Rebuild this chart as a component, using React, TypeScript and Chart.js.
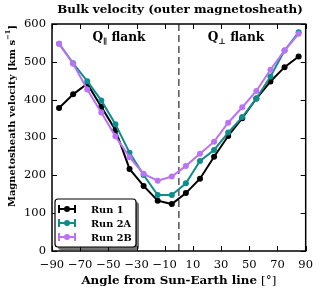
import React, { useEffect, useRef } from "react";
import { Chart, registerables } from "chart.js";

Chart.register(...registerables);

const ANGLES = [-85, -75, -65, -55, -45, -35, -25, -15, -5, 5, 15, 25, 35, 45, 55, 65, 75, 85];
const RUN_1 = [378, 414, 442, 381, 320, 217, 172, 133, 124, 153, 191, 249, 304, 351, 403, 448, 486, 514];
const RUN_2A = [548, 496, 449, 398, 335, 260, 201, 148, 148, 179, 238, 267, 313, 354, 403, 461, 530, 578];
const RUN_2B = [548, 495, 427, 366, 303, 248, 204, 186, 197, 225, 257, 289, 339, 380, 423, 479, 530, 574];
const X_TICKS = [-90, -70, -50, -30, -10, 10, 30, 50, 70, 90];
const Y_TICKS = [0, 100, 200, 300, 400, 500, 600];
const SERIES_NAMES = ["Run 1", "Run 2A", "Run 2B"];
const COLORS = ["#000000", "#0f8c8c", "#bb72f7"];

const TITLE = "Bulk velocity (outer magnetosheath)";
const X_TITLE = "Angle from Sun-Earth line";
const Y_TITLE = "Magnetosheath velocity [km s";

const SERIF = "'DejaVu Serif', 'Liberation Serif', serif";

const fmt = (v: number) => (v < 0 ? "\u2212" + Math.abs(v) : String(v));

// font size for which text has the requested width
const fitSize = (ctx: CanvasRenderingContext2D, text: string, weight: string, width: number) => {
  ctx.font = `${weight} 20px ${SERIF}`;
  const w = ctx.measureText(text).width;
  return (20 * width) / w;
};

const overlay = {
  id: "overlay",
  beforeDatasetsDraw(chart: any) {
    const { ctx, chartArea: a, scales } = chart;
    const x0 = scales.x.getPixelForValue(0);
    ctx.save();
    ctx.strokeStyle = "#555";
    ctx.lineWidth = 1.5;
    ctx.setLineDash([7, 4]);
    ctx.beginPath();
    ctx.moveTo(x0, a.top);
    ctx.lineTo(x0, a.bottom);
    ctx.stroke();
    ctx.restore();
  },
  afterDraw(chart: any) {
    const { ctx, chartArea: a, scales } = chart;
    ctx.save();
    // frame
    ctx.strokeStyle = "#000";
    ctx.lineWidth = 1.5;
    ctx.strokeRect(a.left, a.top, a.right - a.left, a.bottom - a.top);
    // ticks inside
    ctx.lineWidth = 1;
    const tl = 5;
    ctx.beginPath();
    X_TICKS.forEach((v) => {
      const px = Math.round(scales.x.getPixelForValue(v)) + 0.5;
      ctx.moveTo(px, a.bottom);
      ctx.lineTo(px, a.bottom - tl);
      ctx.moveTo(px, a.top);
      ctx.lineTo(px, a.top + tl);
    });
    Y_TICKS.forEach((v) => {
      const py = Math.round(scales.y.getPixelForValue(v)) + 0.5;
      ctx.moveTo(a.left, py);
      ctx.lineTo(a.left + tl, py);
      ctx.moveTo(a.right, py);
      ctx.lineTo(a.right - tl, py);
    });
    ctx.stroke();

    ctx.fillStyle = "#000";
    ctx.textBaseline = "middle";
    // title
    const ts = fitSize(ctx, TITLE, "bold", 246);
    ctx.font = `bold ${ts}px ${SERIF}`;
    ctx.textAlign = "center";
    ctx.fillText(TITLE, 180, 10);

    // x title
    ctx.textAlign = "left";
    const xs = fitSize(ctx, X_TITLE + " [\u00b0]", "bold", 197);
    ctx.font = `bold ${xs}px ${SERIF}`;
    const w1 = ctx.measureText(X_TITLE + " ").width;
    ctx.font = `${xs}px ${SERIF}`;
    const w2 = ctx.measureText("[\u00b0]").width;
    const sx = (a.left + a.right) / 2 - (w1 + w2) / 2;
    ctx.font = `bold ${xs}px ${SERIF}`;
    ctx.fillText(X_TITLE + " ", sx, 281);
    ctx.font = `${xs}px ${SERIF}`;
    ctx.fillText("[\u00b0]", sx + w1, 281);

    // y title (rotated)
    ctx.save();
    ctx.translate(12, 116);
    ctx.rotate(-Math.PI / 2);
    const ys = fitSize(ctx, Y_TITLE + "]", "bold", 172);
    const ss = ys * 0.68;
    ctx.font = `bold ${ys}px ${SERIF}`;
    const t1 = ctx.measureText(Y_TITLE).width;
    ctx.font = `bold ${ss}px ${SERIF}`;
    const t2 = ctx.measureText("\u22121").width;
    ctx.font = `bold ${ys}px ${SERIF}`;
    const t3 = ctx.measureText("]").width;
    const s = -(t1 + t2 + t3) / 2;
    ctx.textAlign = "left";
    ctx.fillText(Y_TITLE, s, 0);
    ctx.font = `bold ${ss}px ${SERIF}`;
    ctx.fillText("\u22121", s + t1, -4);
    ctx.font = `bold ${ys}px ${SERIF}`;
    ctx.fillText("]", s + t1 + t2, 0);
    ctx.restore();

    // flank annotations
    const fs = fitSize(ctx, "Q flank", "bold", 49);
    const subs = fs * 0.65;
    const drawQ = (sub: string, cx: number) => {
      ctx.font = `bold ${fs}px ${SERIF}`;
      const q = ctx.measureText("Q").width;
      const f = ctx.measureText(" flank").width;
      ctx.font = `bold ${subs}px ${SERIF}`;
      const sw = ctx.measureText(sub).width;
      const x = cx - (q + sw + f) / 2;
      ctx.font = `bold ${fs}px ${SERIF}`;
      ctx.fillText("Q", x, 38);
      ctx.font = `bold ${subs}px ${SERIF}`;
      ctx.fillText(sub, x + q, 41.5);
      ctx.font = `bold ${fs}px ${SERIF}`;
      ctx.fillText(" flank", x + q + sw, 38);
    };
    ctx.textAlign = "left";
    drawQ("\u2225", 119);
    drawQ("\u22a5", 236);

    // legend
    const bx = 55, by = 199, bw = 81, bh = 48;
    const rr = (x: number, y: number, w: number, h: number, r: number) => {
      ctx.beginPath();
      ctx.moveTo(x + r, y);
      ctx.lineTo(x + w - r, y);
      ctx.quadraticCurveTo(x + w, y, x + w, y + r);
      ctx.lineTo(x + w, y + h - r);
      ctx.quadraticCurveTo(x + w, y + h, x + w - r, y + h);
      ctx.lineTo(x + r, y + h);
      ctx.quadraticCurveTo(x, y + h, x, y + h - r);
      ctx.lineTo(x, y + r);
      ctx.quadraticCurveTo(x, y, x + r, y);
      ctx.closePath();
    };
    ctx.fillStyle = "rgba(0,0,0,0.55)";
    rr(bx + 3, by + 3, bw, bh, 3);
    ctx.fill();
    ctx.fillStyle = "#fff";
    rr(bx, by, bw, bh, 3);
    ctx.fill();
    ctx.strokeStyle = "#000";
    ctx.lineWidth = 1.2;
    ctx.stroke();
    const ls = fitSize(ctx, "Run 2A", "bold", 40);
    SERIES_NAMES.forEach((name, i) => {
      const ry = by + 10 + i * 14;
      const c = COLORS[i];
      ctx.strokeStyle = c;
      ctx.fillStyle = c;
      ctx.lineWidth = 2;
      ctx.beginPath();
      ctx.moveTo(59, ry);
      ctx.lineTo(75, ry);
      ctx.moveTo(59, ry - 4);
      ctx.lineTo(59, ry + 4);
      ctx.moveTo(75, ry - 4);
      ctx.lineTo(75, ry + 4);
      ctx.stroke();
      ctx.beginPath();
      ctx.arc(67, ry, 3, 0, Math.PI * 2);
      ctx.fill();
      ctx.fillStyle = "#000";
      ctx.font = `bold ${ls}px ${SERIF}`;
      ctx.textAlign = "left";
      ctx.fillText(name, 91, ry + 1);
    });
    ctx.restore();
  },
};

export default function App() {
  const ref = useRef<HTMLCanvasElement>(null);
  useEffect(() => {
    if (!ref.current) return;
    const series = [RUN_1, RUN_2A, RUN_2B];
    const chart = new Chart(ref.current, {
      type: "line",
      data: {
        datasets: series.map((vals, i) => ({
          label: SERIES_NAMES[i],
          data: ANGLES.map((x, j) => ({ x, y: vals[j] })),
          borderColor: COLORS[i],
          backgroundColor: COLORS[i],
          borderWidth: 2,
          pointRadius: 3,
          pointBorderWidth: 0,
          pointBackgroundColor: COLORS[i],
          tension: 0,
          order: 3 - i,
        })),
      },
      options: {
        animation: false,
        responsive: false,
        devicePixelRatio: 1,
        layout: { padding: { top: 24, right: 11, left: 0, bottom: 0 } },
        plugins: { legend: { display: false }, tooltip: { enabled: false }, title: { display: false } },
        scales: {
          x: {
            type: "linear",
            min: -90,
            max: 90,
            afterBuildTicks: (s: any) => {
              s.ticks = X_TICKS.map((v) => ({ value: v }));
            },
            afterFit: (s: any) => {
              s.height = 42;
            },
            grid: { display: false, drawTicks: false },
            border: { display: false },
            ticks: {
              color: "#000",
              padding: 7,
              maxRotation: 0,
              autoSkip: false,
              font: { family: SERIF, size: 11.5 },
              callback: (v: any) => fmt(Number(v)),
            },
          },
          y: {
            min: 0,
            max: 600,
            afterBuildTicks: (s: any) => {
              s.ticks = Y_TICKS.map((v) => ({ value: v }));
            },
            afterFit: (s: any) => {
              s.width = 52;
            },
            grid: { display: false, drawTicks: false },
            border: { display: false },
            ticks: {
              color: "#000",
              padding: 6,
              font: { family: SERIF, size: 11.5 },
              callback: (v: any) => fmt(Number(v)),
            },
          },
        },
      },
      plugins: [overlay],
    });
    return () => chart.destroy();
  }, []);
  return (
    <div style={{ position: "fixed", left: 0, top: 0, width: 320, height: 293, background: "#fff" }}>
      <canvas ref={ref} width={320} height={293} style={{ width: 320, height: 293, display: "block" }} />
    </div>
  );
}
